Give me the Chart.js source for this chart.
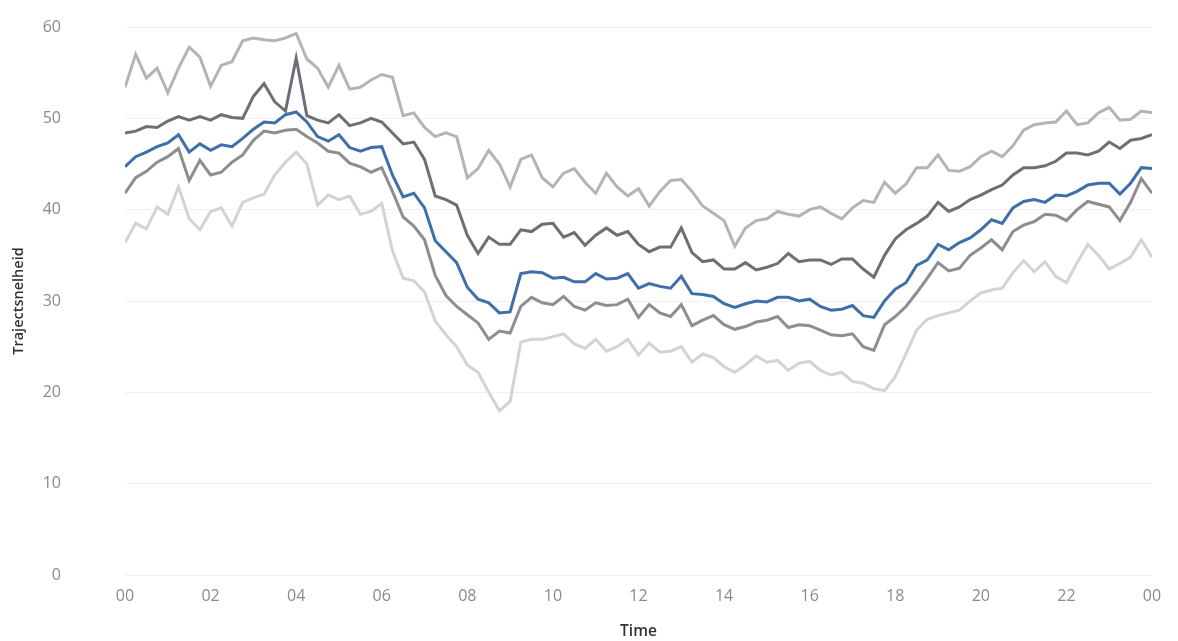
<!DOCTYPE html>
<html>
<head>
<meta charset="utf-8">
<script src="https://cdn.jsdelivr.net/npm/chart.js@4.4.1/dist/chart.umd.min.js"></script>
<style>
  html, body { margin: 0; padding: 0; background: #fff; }
  #wrap { width: 1178px; height: 641px; }
</style>
</head>
<body>
<div id="wrap"><canvas id="chart" width="1178" height="641"></canvas></div>
<script>
// tijd in uren, elk kwartier
const hours = Array.from({ length: 97 }, (_, i) => i * 0.25);
const xTicks = [0, 2, 4, 6, 8, 10, 12, 14, 16, 18, 20, 22, 24];
const yTicks = [0, 10, 20, 30, 40, 50, 60];

// bovenste lichtgrijze lijn
const p90 = [53.4, 57.0, 54.4, 55.5, 52.8, 55.5, 57.8, 56.7, 53.5, 55.8, 56.2, 58.5, 58.8, 58.6, 58.5, 58.8,
  59.3, 56.5, 55.5, 53.4, 55.8, 53.2, 53.4, 54.2, 54.8, 54.5, 50.3, 50.6, 49.0, 48.0, 48.4, 48.0,
  43.5, 44.5, 46.5, 45.0, 42.5, 45.5, 46.0, 43.5, 42.5, 44.0, 44.5, 43.0, 41.8, 44.0, 42.5, 41.5,
  42.3, 40.4, 42.0, 43.2, 43.3, 42.0, 40.4, 39.6, 38.8, 36.0, 38.0, 38.8, 39.0, 39.8, 39.5, 39.3,
  40.0, 40.3, 39.6, 39.0, 40.2, 41.0, 40.8, 43.0, 41.8, 42.8, 44.6, 44.6, 46.0, 44.3, 44.2, 44.7,
  45.8, 46.4, 45.8, 47.0, 48.7, 49.3, 49.5, 49.6, 50.8, 49.3, 49.5, 50.6, 51.2, 49.8, 49.9, 50.8, 50.6];

// donkergrijs
const p75 = [48.4, 48.6, 49.1, 49.0, 49.7, 50.2, 49.8, 50.2, 49.8, 50.4, 50.1, 50.0, 52.4, 53.8, 51.8, 50.8,
  56.6, 50.3, 49.8, 49.5, 50.4, 49.2, 49.5, 50.0, 49.6, 48.4, 47.2, 47.4, 45.5, 41.5, 41.1, 40.5,
  37.2, 35.2, 37.0, 36.2, 36.2, 37.8, 37.6, 38.4, 38.5, 37.0, 37.5, 36.1, 37.2, 38.0, 37.2, 37.6,
  36.2, 35.4, 35.9, 35.9, 38.0, 35.3, 34.3, 34.5, 33.5, 33.5, 34.2, 33.4, 33.7, 34.1, 35.2, 34.3,
  34.5, 34.5, 34.0, 34.6, 34.6, 33.5, 32.6, 35.0, 36.8, 37.8, 38.5, 39.3, 40.8, 39.8, 40.3, 41.1,
  41.6, 42.2, 42.7, 43.8, 44.6, 44.6, 44.8, 45.3, 46.2, 46.2, 46.0, 46.4, 47.4, 46.7, 47.6, 47.8, 48.2];

// mediaan (blauw)
const median = [44.7, 45.8, 46.3, 46.9, 47.3, 48.2, 46.3, 47.2, 46.5, 47.1, 46.9, 47.8, 48.8, 49.6, 49.5, 50.4,
  50.7, 49.6, 48.0, 47.5, 48.2, 46.8, 46.4, 46.8, 46.9, 43.8, 41.4, 41.8, 40.2, 36.6, 35.4, 34.2,
  31.5, 30.2, 29.8, 28.7, 28.8, 33.0, 33.2, 33.1, 32.5, 32.6, 32.1, 32.1, 33.0, 32.4, 32.5, 33.0,
  31.4, 31.9, 31.6, 31.4, 32.7, 30.8, 30.7, 30.5, 29.7, 29.3, 29.7, 30.0, 29.9, 30.4, 30.4, 30.0,
  30.2, 29.4, 29.0, 29.1, 29.5, 28.4, 28.2, 30.0, 31.3, 32.0, 33.9, 34.5, 36.2, 35.6, 36.4, 36.9,
  37.8, 38.9, 38.5, 40.2, 40.9, 41.1, 40.8, 41.6, 41.5, 42.0, 42.7, 42.9, 42.9, 41.7, 42.9, 44.6, 44.5];

// middengrijs
const p25 = [41.8, 43.5, 44.2, 45.2, 45.8, 46.7, 43.2, 45.4, 43.8, 44.1, 45.2, 46.0, 47.6, 48.6, 48.4, 48.7,
  48.8, 48.0, 47.3, 46.4, 46.2, 45.1, 44.7, 44.1, 44.6, 42.0, 39.2, 38.2, 36.7, 32.8, 30.6, 29.4,
  28.5, 27.6, 25.8, 26.7, 26.5, 29.4, 30.4, 29.8, 29.6, 30.5, 29.4, 29.0, 29.8, 29.5, 29.6, 30.2,
  28.2, 29.6, 28.7, 28.3, 29.6, 27.3, 27.9, 28.4, 27.4, 26.9, 27.2, 27.7, 27.9, 28.3, 27.1, 27.4,
  27.3, 26.8, 26.3, 26.2, 26.4, 25.0, 24.6, 27.4, 28.3, 29.4, 30.9, 32.5, 34.2, 33.3, 33.6, 35.0,
  35.8, 36.7, 35.6, 37.6, 38.3, 38.7, 39.5, 39.4, 38.8, 40.0, 40.9, 40.6, 40.3, 38.8, 40.8, 43.4, 41.8];

// onderste, heel lichtgrijs
const p10 = [36.4, 38.5, 37.9, 40.3, 39.5, 42.5, 39.0, 37.8, 39.8, 40.2, 38.2, 40.8, 41.3, 41.7, 43.8, 45.2,
  46.3, 45.0, 40.5, 41.6, 41.1, 41.5, 39.5, 39.8, 40.7, 35.5, 32.5, 32.2, 31.0, 27.8, 26.3, 25.0,
  23.0, 22.2, 20.0, 18.0, 19.0, 25.5, 25.8, 25.8, 26.1, 26.4, 25.3, 24.8, 25.8, 24.5, 25.0, 25.8,
  24.1, 25.4, 24.4, 24.5, 25.0, 23.3, 24.2, 23.8, 22.8, 22.2, 23.0, 24.0, 23.3, 23.5, 22.4, 23.2,
  23.4, 22.4, 21.9, 22.2, 21.2, 21.0, 20.4, 20.2, 21.7, 24.2, 26.8, 28.0, 28.4, 28.7, 29.0, 30.0,
  30.9, 31.2, 31.4, 33.1, 34.4, 33.2, 34.3, 32.7, 32.0, 34.2, 36.2, 35.0, 33.5, 34.1, 34.8, 36.7, 34.8];

const series = [
  { label: "p10", values: p10, color: "#d3d3d3" },
  { label: "p90", values: p90, color: "#b4b4b6" },
  { label: "p25", values: p25, color: "#8d8d92" },
  { label: "p75", values: p75, color: "#6d6e76" },
  { label: "Mediaan", values: median, color: "#3f6fab" },
];

new Chart(document.getElementById("chart"), {
  type: "line",
  data: {
    datasets: series.map((s) => ({
      label: s.label,
      data: s.values.map((v, i) => ({ x: hours[i], y: v })),
      borderColor: s.color,
      borderWidth: 3,
      pointRadius: 0,
      tension: 0,
      fill: false,
    })),
  },
  options: {
    responsive: false,
    animation: false,
    layout: { padding: { top: 27, right: 26, left: 0, bottom: 0 } },
    plugins: { legend: { display: false }, tooltip: { enabled: false } },
    scales: {
      x: {
        type: "linear",
        min: 0,
        max: 24,
        afterBuildTicks: (scale) => { scale.ticks = xTicks.map((v) => ({ value: v })); },
        afterFit: (scale) => { scale.height = 66; },
        grid: { display: false, drawTicks: false },
        border: { display: false },
        ticks: {
          padding: 12,
          color: "#8a8a8a",
          font: { family: "Open Sans", size: 16 },
          callback: (v) => String(v % 24).padStart(2, "0"),
        },
        title: {
          display: true,
          text: "Time",
          color: "#333",
          padding: { top: 0, bottom: 0 },
          font: { family: "Open Sans", size: 15.5, weight: "600" },
        },
      },
      y: {
        min: 0,
        max: 60,
        afterBuildTicks: (scale) => { scale.ticks = yTicks.map((v) => ({ value: v })); },
        afterFit: (scale) => {
          scale.width = 125;
          // tick padding ook verticaal meegeteld, dat willen we niet
          scale.paddingTop = 10;
          scale.paddingBottom = 10;
        },
        grid: { color: "#f0f0f0", lineWidth: 1, drawTicks: false },
        border: { display: false },
        ticks: {
          padding: 64,
          color: "#8a8a8a",
          font: { family: "Open Sans", size: 16 },
        },
        title: {
          display: true,
          text: "Trajectsnelheid",
          color: "#333",
          padding: { top: 10, bottom: 0 },
          font: { family: "Open Sans", size: 14.5, weight: "600" },
        },
      },
    },
  },
});
</script>
</body>
</html>
